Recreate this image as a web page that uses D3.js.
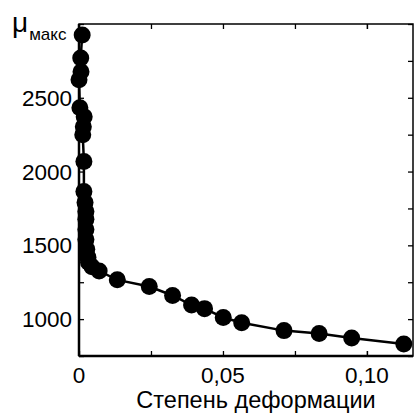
<!DOCTYPE html>
<html>
<head>
<meta charset="utf-8">
<style>
  body { margin: 0; background: #fff; }
  text { font-family: "Liberation Sans", Arial, sans-serif; fill: #000; }
</style>
</head>
<body>
<svg width="414" height="417"></svg>
<script src="https://cdn.jsdelivr.net/npm/d3@7"></script>
<script>
// degree of deformation vs mu max
var strain = [0.0011, 0.0006, 0.0007, 0.0000, 0.0003, 0.0018, 0.0015, 0.0013,
              0.0017, 0.0017, 0.0021, 0.0024, 0.0024, 0.0024, 0.0024, 0.0027, 0.0031, 0.0033,
              0.0045, 0.0070, 0.0133, 0.0244, 0.0325, 0.0391, 0.0436, 0.0501, 0.0565,
              0.0712, 0.0834, 0.0947, 0.1128];
var muMax = [2926, 2770, 2676, 2622, 2432, 2372, 2304, 2250,
             2068, 1865, 1791, 1730, 1676, 1608, 1540, 1473, 1419, 1385,
             1355, 1326, 1266, 1221, 1160, 1095, 1071, 1011, 975,
             922, 903, 872, 831];
var xTicks = [0, 0.05, 0.10];
var xMinor = [0.025, 0.075, 0.1];
var yTicks = [1000, 1500, 2000, 2500];
var yMinor = [750, 1250, 1750, 2250, 2750, 3000];

var data = strain.map(function(d, i) { return {x: d, y: muMax[i]}; });

var svg = d3.select("svg");
var margin = {top: 24, right: 1, bottom: 61, left: 79};
var width = +svg.attr("width") - margin.left - margin.right;
var height = +svg.attr("height") - margin.top - margin.bottom;

var chart = svg.append("g")
    .attr("transform", "translate(" + margin.left + "," + margin.top + ")");

var x = d3.scaleLinear().domain([0, 0.116]).range([0, width]);
var y = d3.scaleLinear().domain([750, 3000]).range([height, 0]);

var fmt = function(d) { return d === 0 ? "0" : d3.format(".2f")(d).replace(".", ","); };

// frame
chart.append("rect")
    .attr("width", width).attr("height", height)
    .attr("fill", "none").attr("stroke", "#000").attr("stroke-width", 1.5);

// ticks pointing inward on all four sides
function ticks(g, axis) {
  g.call(axis);
  g.select(".domain").remove();
  g.selectAll(".tick line").attr("stroke", "#000").attr("stroke-width", 1.3);
}

ticks(chart.append("g").attr("transform", "translate(0," + height + ")"),
  d3.axisBottom(x).tickValues(xTicks.concat(xMinor)).tickSize(-5).tickFormat(""));
ticks(chart.append("g"),
  d3.axisTop(x).tickValues(xTicks.concat(xMinor)).tickSize(-5).tickFormat(""));
ticks(chart.append("g"),
  d3.axisLeft(y).tickValues(yTicks.concat(yMinor)).tickSize(-5).tickFormat(""));
ticks(chart.append("g").attr("transform", "translate(" + width + ",0)"),
  d3.axisRight(y).tickValues(yTicks.concat(yMinor)).tickSize(-5).tickFormat(""));

// thicker left and bottom axis lines
chart.append("line").attr("x1", 0).attr("x2", 0).attr("y1", 0).attr("y2", height)
    .attr("stroke", "#000").attr("stroke-width", 2.5);
chart.append("line").attr("x1", 0).attr("x2", width).attr("y1", height).attr("y2", height)
    .attr("stroke", "#000").attr("stroke-width", 2.5);

// tick labels
chart.selectAll(".xl").data(xTicks).enter().append("text")
    .attr("x", function(d) { return x(d); })
    .attr("y", height + 27)
    .attr("text-anchor", "middle")
    .style("font-size", "22.5px")
    .text(fmt);

chart.selectAll(".yl").data(yTicks).enter().append("text")
    .attr("x", -7)
    .attr("y", function(d) { return y(d) + 8; })
    .attr("text-anchor", "end")
    .style("font-size", "22.5px")
    .text(function(d) { return d; });

// axis titles
svg.append("text")
    .attr("x", margin.left + width / 2 + 10)
    .attr("y", 408)
    .attr("text-anchor", "middle")
    .style("font-size", "23.5px")
    .text("Степень деформации");

var yl = svg.append("text").attr("x", 12).attr("y", 32);
yl.append("tspan").style("font-size", "28px").text("μ");
yl.append("tspan").attr("dy", 8).attr("dx", 1).style("font-size", "17px").text("макс");

// curve and points
var line = d3.line()
    .x(function(d) { return x(d.x); })
    .y(function(d) { return y(d.y); });

chart.append("path")
    .datum(data)
    .attr("fill", "none")
    .attr("stroke", "#000")
    .attr("stroke-width", 2.5)
    .attr("d", line);

chart.selectAll(".dot").data(data).enter().append("circle")
    .attr("cx", function(d) { return x(d.x); })
    .attr("cy", function(d) { return y(d.y); })
    .attr("r", 8.5)
    .attr("fill", "#000");
</script>
</body>
</html>
